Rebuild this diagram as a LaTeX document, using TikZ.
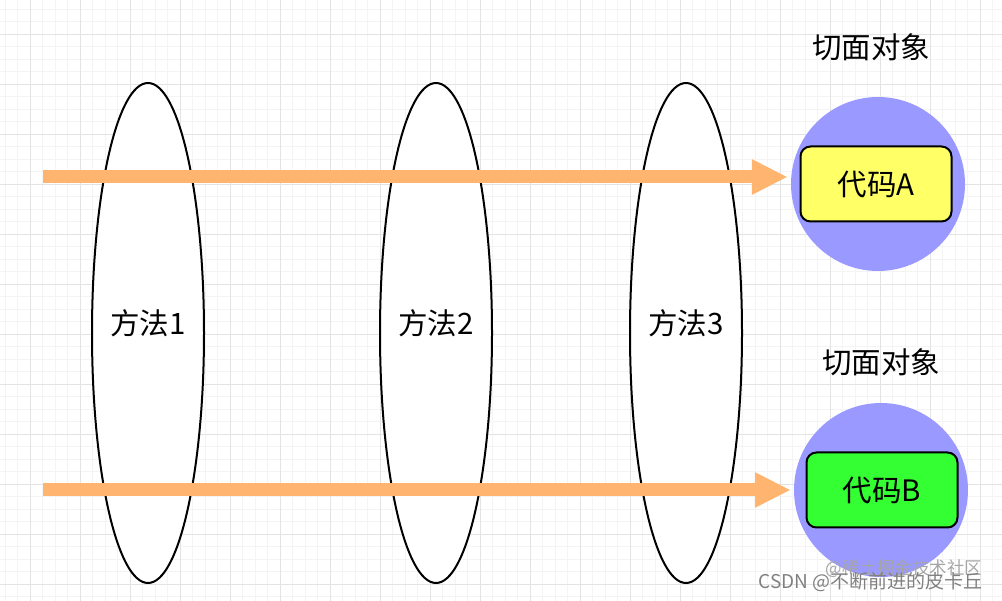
\documentclass[tikz,border=0pt]{standalone}
\usepackage{fontspec}
\setmainfont{Noto Sans CJK SC}
\usetikzlibrary{arrows.meta}
\usetikzlibrary{positioning}
\usetikzlibrary{shapes.geometric}

\definecolor{flowcol}{HTML}{FFB570}
\definecolor{aspectcol}{HTML}{9999FF}
\definecolor{codeacol}{HTML}{FFFF66}
\definecolor{codebcol}{HTML}{33FF33}

\tikzset{
  big/.style={font=\fontsize{29.5}{32}\selectfont},
  method/.style={draw,ellipse,line width=2pt,fill=white,minimum width=112pt,minimum height=500pt,inner sep=0pt},
  aspect/.style={circle,fill=aspectcol,minimum size=174pt,inner sep=0pt},
  code/.style={draw,rounded corners=10pt,line width=2pt,minimum width=151pt,minimum height=75pt,big},
  flow/.style={line width=13pt,draw=flowcol,-{Triangle[length=36pt,width=33pt,fill=flowcol]}},
  wmark/.style={font=\fontsize{19}{21}\selectfont,text=gray}
}

\begin{document}
\begin{tikzpicture}[x=1pt,y=-1pt]
    \useasboundingbox (0,0) rectangle (1002,601);
    \begin{scope}
      \clip (0,0) rectangle (1002,601);
      \draw[gray!9,line width=0.8pt,step=12.5pt,xshift=5pt,yshift=-9.3pt] (-20,-20) grid (1020,620);
      \draw[gray!22,line width=0.8pt,step=50pt,xshift=30pt,yshift=-34.3pt] (-60,-60) grid (1060,660);
    \end{scope}

    \node (m1) [method,label={[big,yshift=10pt]center:方法1}] at (148,333) {};
    \node (m2) [method,label={[big,yshift=10pt]center:方法2}] at (436,333) {};
    \node (m3) [method,label={[big,yshift=10pt]center:方法3}] at (686,333) {};

    \node (ca) [aspect] at (878,184) {};
    \node (cb) [aspect] at (881,490) {};

    \coordinate (sa) at (43,177);
    \coordinate (sb) at (43,490);
    \path (sa) edge[flow, shorten >=3pt] (sa -| ca.west);
    \path (sb) edge[flow, shorten >=3pt] (sb -| cb.west);

    \node (codea) [code,fill=codeacol] at (876,184) {代码A};
    \node (codeb) [code,fill=codebcol] at (882,490) {代码B};

    \node (ta) [big] at (871,47) {切面对象};
    \node (tb) [big] at (881,362) {切面对象};

    \node (wm2) [wmark,font=\fontsize{17.5}{20}\selectfont,text=gray!70,anchor=east] at (986,569) {@稀土掘金技术社区};
    \node (wm1) [wmark,anchor=east] at (986,582) {CSDN @不断前进的皮卡丘};
  \end{tikzpicture}
\end{document}
